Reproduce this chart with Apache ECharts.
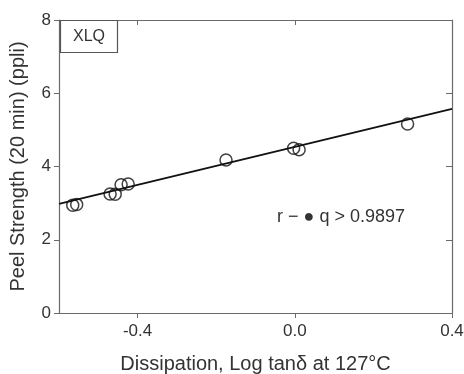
<!DOCTYPE html>
<html>
<head>
<meta charset="utf-8">
<script src="https://cdn.jsdelivr.net/npm/echarts@6/dist/echarts.min.js"></script>
<style>html,body{margin:0;padding:0;background:#fff}#c{width:464px;height:374px}</style>
</head>
<body>
<div id="c"></div>
<script>
var pointX = [-0.565, -0.555, -0.470, -0.457, -0.442, -0.424, -0.175, -0.003, 0.011, 0.287];
var pointY = [2.94, 2.96, 3.25, 3.24, 3.50, 3.52, 4.18, 4.50, 4.46, 5.16];
var fitX = [-0.6, 0.4];
var fitY = [2.98, 5.57];
var xTicks = [-0.4, 0.0, 0.4];
var yTicks = [0, 2, 4, 6, 8];
var xTitle = 'Dissipation, Log tan\u03b4 at 127\u00b0C';
var yTitle = 'Peel Strength (20 min) (ppli)';
var boxLabel = 'XLQ';
var noteText = 'r \u2212 \u25cf q > 0.9897';

var FONT = '"Liberation Sans", Arial, sans-serif';
var axisCol = '#6a6a6a';
var txtCol = '#333';

var chart = echarts.init(document.getElementById('c'));
chart.setOption({
  animation: false,
  backgroundColor: '#fff',
  textStyle: {fontFamily: FONT},
  title: {
    text: boxLabel, left: 60, top: 20,
    padding: [9, 13, 8, 13],
    borderColor: '#555', borderWidth: 1.2,
    textStyle: {fontFamily: FONT, fontSize: 16, fontWeight: 'normal', color: txtCol}
  },
  grid: {left: 59, right: 12, top: 20, bottom: 61, containLabel: false, outerBoundsMode: 'none'},
  xAxis: [{
    type: 'value', min: -0.6, max: 0.4,
    name: xTitle, nameLocation: 'middle', nameGap: 41,
    nameTextStyle: {fontFamily: FONT, fontSize: 20, color: txtCol},
    axisLine: {onZero: false, lineStyle: {color: axisCol, width: 1.2}},
    axisTick: {show: true, inside: false, length: 5, customValues: xTicks, lineStyle: {color: axisCol}},
    axisLabel: {customValues: xTicks, fontFamily: FONT, fontSize: 17, color: txtCol, margin: 10,
      formatter: function (v) { return v.toFixed(1); }},
    splitLine: {show: false}
  }, {
    type: 'value', min: -0.6, max: 0.4, position: 'top',
    axisLine: {show: true, onZero: false, lineStyle: {color: axisCol, width: 1.2}},
    axisTick: {show: true, inside: true, length: 5, customValues: xTicks, lineStyle: {color: axisCol}},
    axisLabel: {show: false},
    splitLine: {show: false}
  }],
  yAxis: [{
    type: 'value', min: 0, max: 8, interval: 2,
    name: yTitle, nameLocation: 'middle', nameGap: 31, nameRotate: 90,
    nameTextStyle: {fontFamily: FONT, fontSize: 20, color: txtCol},
    axisLine: {show: true, onZero: false, lineStyle: {color: axisCol, width: 1.2}},
    axisTick: {show: true, inside: false, length: 5, customValues: yTicks, lineStyle: {color: axisCol}},
    axisLabel: {customValues: yTicks, fontFamily: FONT, fontSize: 17, color: txtCol, margin: 8},
    splitLine: {show: false}
  }, {
    type: 'value', min: 0, max: 8, interval: 2, position: 'right',
    axisLine: {show: true, onZero: false, lineStyle: {color: axisCol, width: 1.2}},
    axisTick: {show: true, inside: true, length: 6, lineStyle: {color: axisCol}},
    axisLabel: {show: false},
    splitLine: {show: false}
  }],
  graphic: [{
    type: 'text', left: 277, top: 208,
    style: {text: noteText, font: '18px ' + FONT, fill: txtCol}
  }],
  series: [{
    type: 'line',
    data: fitX.map(function (x, i) { return [x, fitY[i]]; }),
    symbol: 'none',
    lineStyle: {color: '#111', width: 1.8},
    z: 2
  }, {
    type: 'scatter',
    data: pointX.map(function (x, i) { return [x, pointY[i]]; }),
    symbol: 'circle', symbolSize: 12,
    itemStyle: {color: 'rgba(255,255,255,0)', borderColor: '#111', borderWidth: 1.5},
    z: 3
  }]
});
</script>
</body>
</html>
